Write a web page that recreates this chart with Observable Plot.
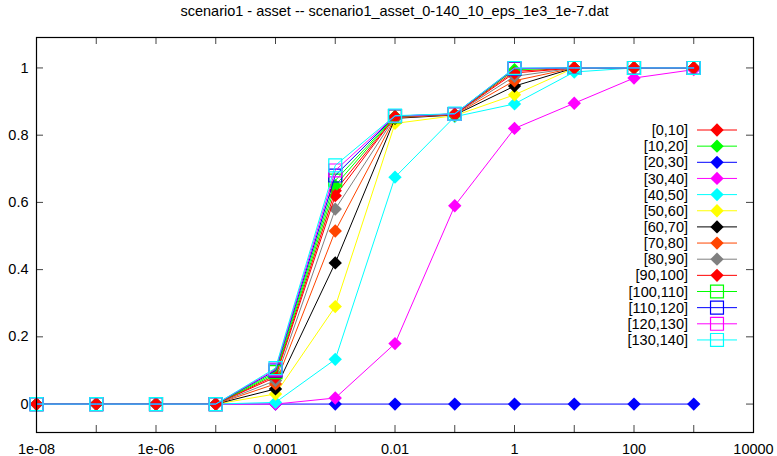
<!DOCTYPE html>
<html>
<head>
<meta charset="utf-8">
<script src="https://cdn.jsdelivr.net/npm/d3@7"></script>
<script src="https://cdn.jsdelivr.net/npm/@observablehq/plot@0.6"></script>
<style>
  body { margin: 0; background: #fff; }
  #wrap { position: relative; width: 777px; height: 456px; font-family: "Liberation Sans", Arial, sans-serif; }
  #title { position: absolute; top: 3px; left: 36px; width: 717px; text-align: center; font-size: 14.5px; color: #000; white-space: nowrap; }
  #chart { position: absolute; left: 0; top: 0; }
</style>
</head>
<body>
<div id="wrap">
  <div id="chart"></div>
  <div id="title">scenario1 - asset -- scenario1_asset_0-140_10_eps_1e3_1e-7.dat</div>
</div>
<script>
// ---- data ----
const xValues = [1e-8, 1e-7, 1e-6, 1e-5, 1e-4, 1e-3, 1e-2, 1e-1, 1, 10, 100, 1000];

const seriesNames = ["[0,10]", "[10,20]", "[20,30]", "[30,40]", "[40,50]", "[50,60]", "[60,70]",
  "[70,80]", "[80,90]", "[90,100]", "[100,110]", "[110,120]", "[120,130]", "[130,140]"];

const s0_10    = [0, 0, 0, 0, 0.085, 0.635, 0.855, 0.862, 0.990, 1, 1, 1];
const s10_20   = [0, 0, 0, 0, 0.090, 0.650, 0.856, 0.862, 0.995, 1, 1, 1];
const s20_30   = [0, 0, 0, 0, 0, 0, 0, 0, 0, 0, 0, 0];
const s30_40   = [0, 0, 0, 0, 0, 0.018, 0.180, 0.590, 0.820, 0.895, 0.970, 0.995];
const s40_50   = [0, 0, 0, 0, 0.005, 0.133, 0.675, 0.855, 0.893, 0.988, 1, 1];
const s50_60   = [0, 0, 0, 0, 0.030, 0.290, 0.835, 0.858, 0.920, 1, 1, 1];
const s60_70   = [0, 0, 0, 0, 0.045, 0.420, 0.850, 0.860, 0.946, 1, 1, 1];
const s70_80   = [0, 0, 0, 0, 0.060, 0.515, 0.852, 0.861, 0.962, 1, 1, 1];
const s80_90   = [0, 0, 0, 0, 0.070, 0.580, 0.854, 0.862, 0.975, 1, 1, 1];
const s90_100  = [0, 0, 0, 0, 0.080, 0.620, 0.855, 0.862, 0.985, 1, 1, 1];
const s100_110 = [0, 0, 0, 0, 0.095, 0.665, 0.856, 0.863, 0.997, 1, 1, 1];
const s110_120 = [0, 0, 0, 0, 0.100, 0.680, 0.857, 0.863, 0.998, 1, 1, 1];
const s120_130 = [0, 0, 0, 0, 0.103, 0.695, 0.857, 0.863, 0.999, 1, 1, 1];
const s130_140 = [0, 0, 0, 0, 0.107, 0.710, 0.858, 0.864, 1.000, 1, 1, 1];

const seriesValues = [s0_10, s10_20, s20_30, s30_40, s40_50, s50_60, s60_70,
  s70_80, s80_90, s90_100, s100_110, s110_120, s120_130, s130_140];

const xTickValues = [1e-8, 1e-7, 1e-6, 1e-5, 1e-4, 1e-3, 1e-2, 1e-1, 1, 10, 100, 1000, 10000];
const xLabelValues = [1e-8, 1e-6, 1e-4, 1e-2, 1, 100, 10000];
const xLabelTexts = ["1e-08", "1e-06", "0.0001", "0.01", "1", "100", "10000"];
const yTickValues = [0, 0.2, 0.4, 0.6, 0.8, 1];
const yLabelTexts = ["0", "0.2", "0.4", "0.6", "0.8", "1"];

// ---- styles ----
const colors = ["#ff0000", "#00ff00", "#0000ff", "#ff00ff", "#00ffff", "#ffff00", "#000000",
  "#ff4500", "#808080", "#ff0000", "#00ff00", "#0000ff", "#ff00ff", "#00ffff"];
const symbols = seriesNames.map((_, i) => i < 10 ? "diamond2" : "square");

const W = 777, H = 456, mL = 36, mR = 24, mT = 37, mB = 24;
const fw = W - mL - mR, fh = H - mT - mB, tk = 7;

const marks = [];
seriesNames.forEach((name, i) => {
  const rows = xValues.map((x, j) => ({x, y: seriesValues[i][j], s: name}));
  marks.push(Plot.line(rows, {x: "x", y: "y", stroke: colors[i], strokeWidth: 1}));
  if (symbols[i] === "diamond2") {
    marks.push(Plot.dot(rows, {x: "x", y: "y", symbol: "diamond2", r: 6, fill: colors[i], stroke: "none"}));
  } else {
    marks.push(Plot.dot(rows, {x: "x", y: "y", symbol: "square", r: 7.3, fill: "none", stroke: colors[i], strokeWidth: 1.2}));
  }
});

const plot = Plot.plot({
  width: W, height: H,
  marginLeft: mL, marginRight: mR, marginTop: mT, marginBottom: mB,
  style: {fontFamily: '"Liberation Sans", Arial, sans-serif', fontSize: "14.5px", color: "#000", background: "#fff"},
  x: {type: "log", domain: [1e-8, 1e4]},
  y: {domain: [-0.0846, 1.0906]},
  marks: [
    Plot.tickX(xTickValues, {x: d => d, insetTop: fh - tk, stroke: "#444"}),
    Plot.tickX(xTickValues, {x: d => d, insetBottom: fh - tk, stroke: "#444"}),
    Plot.tickY(yTickValues, {y: d => d, insetRight: fw - tk, stroke: "#444"}),
    Plot.tickY(yTickValues, {y: d => d, insetLeft: fw - tk, stroke: "#444"}),
    Plot.axisX({ticks: xLabelValues, tickSize: 0, tickPadding: 11, label: null,
      tickFormat: d => xLabelTexts[xLabelValues.indexOf(d)], fill: "#000"}),
    Plot.axisY({ticks: yTickValues, tickSize: 0, tickPadding: 8, label: null,
      tickFormat: d => yLabelTexts[yTickValues.indexOf(d)], fill: "#000"}),
    ...marks,
    Plot.frame({stroke: "#000", strokeWidth: 1.2})
  ]
});
document.getElementById("chart").appendChild(plot);

// ---- legend ----
const svg = d3.select(plot);
const lg = svg.append("g").attr("font-family", '"Liberation Sans", Arial, sans-serif').attr("font-size", "14.5px");
const legTop = 130, legStep = 16.15, textRight = 688, lx1 = 697, lx2 = 737, mx = 717;
seriesNames.forEach((name, i) => {
  const y = legTop + i * legStep;
  lg.append("text").attr("x", textRight).attr("y", y).attr("dy", "0.35em")
    .attr("text-anchor", "end").attr("fill", "#000").text(name);
  lg.append("line").attr("x1", lx1).attr("x2", lx2).attr("y1", y).attr("y2", y)
    .attr("stroke", colors[i]).attr("stroke-width", 1);
  if (symbols[i] === "diamond2") {
    lg.append("path").attr("transform", `translate(${mx},${y})`)
      .attr("d", d3.symbol(d3.symbolDiamond2, Math.PI * 36)()).attr("fill", colors[i]);
  } else {
    lg.append("path").attr("transform", `translate(${mx},${y})`)
      .attr("d", d3.symbol(d3.symbolSquare, Math.PI * 7.3 * 7.3)()).attr("fill", "none")
      .attr("stroke", colors[i]).attr("stroke-width", 1.2);
  }
});
</script>
</body>
</html>
